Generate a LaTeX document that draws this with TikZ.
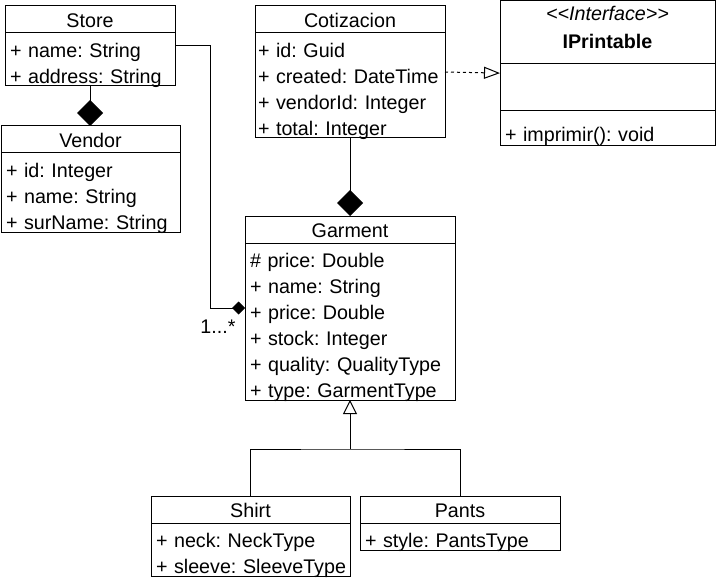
\documentclass[tikz,border=0pt]{standalone}
\usepackage{fontspec}
\setmainfont{Liberation Sans}
\usetikzlibrary{shapes,arrows.meta}
\frenchspacing

\newcommand{\cls}[1]{\hbox to\linewidth{\hfil\rule[-5pt]{0pt}{26pt}\smash{#1}\hfil}}
\newcommand{\attr}[1]{\hbox to\linewidth{\rule[-2pt]{0pt}{26pt}\smash{#1}\hfil}}
\newcommand{\attrs}[1]{\vbox{\offinterlineskip#1}}
\newcommand{\stereo}[1]{<\kern0pt<#1>\kern0pt>}

\begin{document}
\begin{tikzpicture}[x=1pt,y=-1pt,line width=1pt]
\tikzstyle{umlclass}=[rectangle split, rectangle split parts=2, draw, anchor=north west, inner xsep=5pt, inner ysep=0pt, outer sep=0pt, font=\fontsize{19.7}{26}\selectfont]
\tikzstyle{compose}=[-{Diamond[length=26pt,width=26pt]}]
\tikzstyle{inherit}=[-{Triangle[open,length=14pt,width=14pt]}]
\tikzstyle{realize}=[dash pattern=on 3pt off 3pt,-{Triangle[open,length=16pt,width=12pt]}]
\useasboundingbox (0,0) rectangle (716,578);

\node[umlclass, text width=160pt] (store) at (5,6) {\cls{Store}\nodepart{two}\attrs{\attr{+ name: String}\attr{+ address: String}}};
\node[umlclass, text width=169pt] (vendor) at (1,126) {\cls{Vendor}\nodepart{two}\attrs{\attr{+ id: Integer}\attr{+ name: String}\attr{+ surName: String}}};
\node[umlclass, inner xsep=3pt, text width=184pt] (cot) at (255,6) {\cls{Cotizacion}\nodepart{two}\attrs{\attr{+ id: Guid}\attr{+ created: DateTime}\attr{+ vendorId: Integer}\attr{+ total: Integer}}};
\node[umlclass, rectangle split parts=3, text width=205pt] (iprint) at (500,0.5) {\attrs{\hbox to\linewidth{\hfil\rule{0pt}{20pt}\itshape\stereo{Interface}\hfil}\hbox to\linewidth{\hfil\rule[-15pt]{0pt}{42pt}\bfseries IPrintable\hfil}}\nodepart{two}\rule{0pt}{46pt}\nodepart{three}\hbox to\linewidth{\rule[-4pt]{0pt}{34pt}\smash{+ imprimir(): void}\hfil}};
\node[umlclass, text width=200pt] (garment) at (245,216) {\cls{Garment}\nodepart{two}\attrs{\attr{\# price: Double}\attr{+ name: String}\attr{+ price: Double}\attr{+ stock: Integer}\attr{+ quality: QualityType}\attr{+ type: GarmentType}}};
\node[umlclass, text width=189pt] (shirt) at (151,496) {\cls{Shirt}\nodepart{two}\attrs{\attr{+ neck: NeckType}\attr{+ sleeve: SleeveType}}};
\node[umlclass, text width=190pt] (pants) at (360,496) {\cls{Pants}\nodepart{two}\attrs{\attr{+ style: PantsType}}};

\coordinate (fork) at ([yshift=-49pt]garment.south);
\node[anchor=base east, inner sep=0pt, font=\fontsize{19.7}{26}\selectfont] (mult) at ([xshift=-9pt,yshift=-25pt]garment.west) {1...*};

\draw[compose] (store.south) -- (store.south |- vendor.north);
\draw[compose] (cot.south) -- (garment.north);
\draw[-{Diamond[length=13pt,width=13pt]}] (store.east) -| ([xshift=-35pt]garment.west) -- (garment.west);
\draw[realize] (cot.east) -- (iprint.west);
\draw (shirt.north) |- (fork) -| (pants.north);
\draw[inherit] (fork) -- (garment.south);
\end{tikzpicture}
\end{document}
